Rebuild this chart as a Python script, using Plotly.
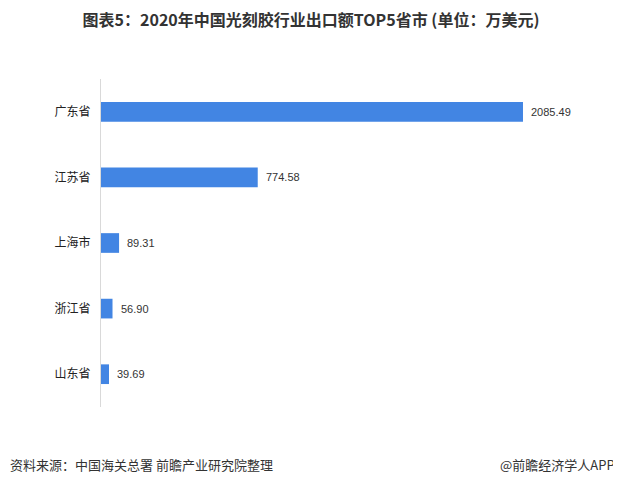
import plotly.graph_objects as go

provinces = ["广东省", "江苏省", "上海市", "浙江省", "山东省"]
values = [2085.49, 774.58, 89.31, 56.90, 39.69]
value_labels = ["2085.49", "774.58", "89.31", "56.90", "39.69"]

fig = go.Figure(go.Bar(
    x=values, y=provinces, orientation="h",
    marker=dict(color="#4285e3", line=dict(width=0)),
    width=0.3,
    hoverinfo="skip",
))

annotations = [
    dict(x=v, y=p, xref="x", yref="y", text=t, showarrow=False,
         xanchor="left", yanchor="middle", xshift=6,
         font=dict(size=11, color="#333333", family="Liberation Sans"))
    for v, p, t in zip(values, provinces, value_labels)
]

annotations += [
    dict(text="资料来源：中国海关总署 前瞻产业研究院整理", xref="paper", yref="paper",
         x=-93 / 500, y=-(456 - 399) / 328, xanchor="left", yanchor="middle",
         showarrow=False, font=dict(size=13, color="#333333")),
    dict(text="@前瞻经济学人APP", xref="paper", yref="paper",
         x=(613 - 93) / 500, y=-(456 - 399) / 328, xanchor="right", yanchor="middle",
         xshift=-4,
         showarrow=False, font=dict(size=13, color="#333333")),
]

fig.update_layout(
    width=613, height=477,
    margin=dict(l=93, r=20, t=71, b=78),
    paper_bgcolor="white", plot_bgcolor="white",
    showlegend=False,
    font=dict(family="Noto Sans CJK SC", color="#333333"),
    title=dict(text="<b>图表5：2020年中国光刻胶行业出口额TOP5省市 (单位：万美元)</b>",
               x=303 / 613, xanchor="center", y=1 - 12 / 477, yanchor="middle",
               font=dict(size=16, color="#333333")),
    xaxis=dict(range=[0, 2471], visible=False, fixedrange=True),
    yaxis=dict(autorange="reversed", showline=True, linecolor="#d9d9d9", linewidth=1,
               showgrid=False, ticks="", ticklabelstandoff=7,
               tickfont=dict(size=12, color="#222222")),
    annotations=annotations,
)

fig.write_html("out.html")
